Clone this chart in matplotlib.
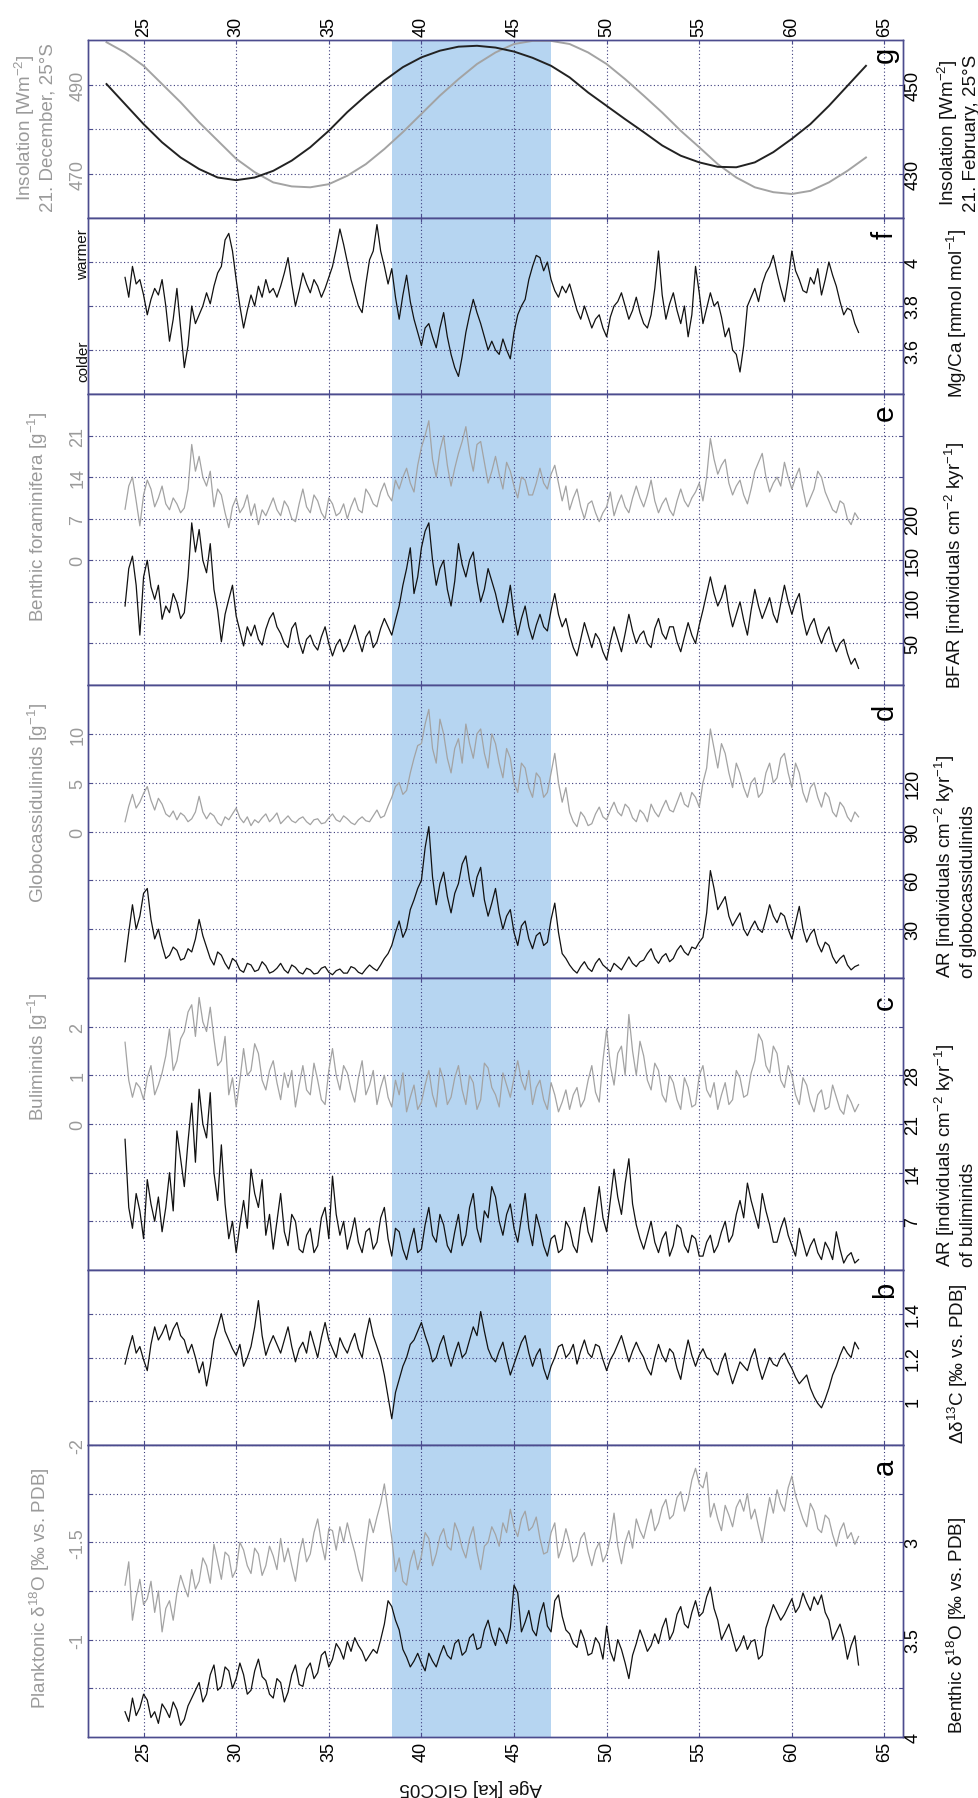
import numpy as np
import matplotlib.pyplot as plt

plt.rcParams['font.family'] = ['Liberation Sans', 'DejaVu Sans']
plt.rcParams['mathtext.fontset'] = 'custom'
plt.rcParams['mathtext.rm'] = 'Liberation Sans'
plt.rcParams['mathtext.it'] = 'Liberation Sans:italic'
plt.rcParams['mathtext.bf'] = 'Liberation Sans:bold'

# sample ages (ka, GICC05)
age = [24.0, 24.2, 24.4, 24.6, 24.8, 25.0, 25.2, 25.4, 25.6, 25.8,
       26.0, 26.2, 26.4, 26.6, 26.8, 27.0, 27.2, 27.4, 27.6, 27.8,
       28.0, 28.2, 28.4, 28.6, 28.8, 29.0, 29.2, 29.4, 29.6, 29.8,
       30.0, 30.2, 30.4, 30.6, 30.8, 31.0, 31.2, 31.4, 31.6, 31.8,
       32.0, 32.2, 32.4, 32.6, 32.8, 33.0, 33.2, 33.4, 33.6, 33.8,
       34.0, 34.2, 34.4, 34.6, 34.8, 35.0, 35.2, 35.4, 35.6, 35.8,
       36.0, 36.2, 36.4, 36.6, 36.8, 37.0, 37.2, 37.4, 37.6, 37.8,
       38.0, 38.2, 38.4, 38.6, 38.8, 39.0, 39.2, 39.4, 39.6, 39.8,
       40.0, 40.2, 40.4, 40.6, 40.8, 41.0, 41.2, 41.4, 41.6, 41.8,
       42.0, 42.2, 42.4, 42.6, 42.8, 43.0, 43.2, 43.4, 43.6, 43.8,
       44.0, 44.2, 44.4, 44.6, 44.8, 45.0, 45.2, 45.4, 45.6, 45.8,
       46.0, 46.2, 46.4, 46.6, 46.8, 47.0, 47.2, 47.4, 47.6, 47.8,
       48.0, 48.2, 48.4, 48.6, 48.8, 49.0, 49.2, 49.4, 49.6, 49.8,
       50.0, 50.2, 50.4, 50.6, 50.8, 51.0, 51.2, 51.4, 51.6, 51.8,
       52.0, 52.2, 52.4, 52.6, 52.8, 53.0, 53.2, 53.4, 53.6, 53.8,
       54.0, 54.2, 54.4, 54.6, 54.8, 55.0, 55.2, 55.4, 55.6, 55.8,
       56.0, 56.2, 56.4, 56.6, 56.8, 57.0, 57.2, 57.4, 57.6, 57.8,
       58.0, 58.2, 58.4, 58.6, 58.8, 59.0, 59.2, 59.4, 59.6, 59.8,
       60.0, 60.2, 60.4, 60.6, 60.8, 61.0, 61.2, 61.4, 61.6, 61.8,
       62.0, 62.2, 62.4, 62.6, 62.8, 63.0, 63.2, 63.4, 63.6]

# a: planktonic (left) / benthic (right) d18O
plank_d18o = [-1.28, -1.40, -1.10, -1.22, -1.31, -1.18, -1.21, -1.30, -1.14, -1.25,
              -1.04, -1.16, -1.20, -1.10, -1.24, -1.33, -1.27, -1.22, -1.36, -1.26,
              -1.30, -1.42, -1.38, -1.29, -1.49, -1.40, -1.31, -1.45, -1.43, -1.32,
              -1.36, -1.50, -1.46, -1.38, -1.34, -1.47, -1.44, -1.33, -1.38, -1.48,
              -1.43, -1.36, -1.52, -1.40, -1.47, -1.38, -1.30, -1.44, -1.52, -1.40,
              -1.44, -1.55, -1.62, -1.50, -1.41, -1.57, -1.56, -1.46, -1.58, -1.50,
              -1.60, -1.52, -1.45, -1.36, -1.30, -1.48, -1.62, -1.55, -1.63, -1.70,
              -1.80, -1.66, -1.52, -1.35, -1.42, -1.30, -1.28, -1.40, -1.46, -1.36,
              -1.43, -1.55, -1.52, -1.38, -1.44, -1.53, -1.57, -1.48, -1.46, -1.60,
              -1.55, -1.47, -1.42, -1.52, -1.58, -1.45, -1.36, -1.48, -1.50, -1.58,
              -1.54, -1.48, -1.60, -1.55, -1.67, -1.58, -1.53, -1.62, -1.66, -1.56,
              -1.58, -1.63, -1.52, -1.44, -1.45, -1.55, -1.60, -1.42, -1.48, -1.57,
              -1.50, -1.40, -1.43, -1.52, -1.55, -1.45, -1.38, -1.46, -1.50, -1.40,
              -1.44, -1.52, -1.65, -1.48, -1.39, -1.50, -1.56, -1.47, -1.62, -1.56,
              -1.52, -1.60, -1.67, -1.56, -1.60, -1.68, -1.72, -1.62, -1.64, -1.73,
              -1.76, -1.66, -1.72, -1.82, -1.88, -1.80, -1.78, -1.86, -1.63, -1.70,
              -1.62, -1.56, -1.69, -1.64, -1.58, -1.68, -1.72, -1.66, -1.75, -1.62,
              -1.67, -1.58, -1.50, -1.62, -1.73, -1.65, -1.77, -1.70, -1.66, -1.78,
              -1.84, -1.74, -1.68, -1.62, -1.58, -1.70, -1.66, -1.57, -1.55, -1.64,
              -1.62, -1.54, -1.48, -1.56, -1.60, -1.52, -1.55, -1.49, -1.53]
benth_d18o = [3.87, 3.92, 3.80, 3.89, 3.85, 3.78, 3.81, 3.90, 3.87, 3.93,
              3.83, 3.86, 3.90, 3.82, 3.86, 3.94, 3.91, 3.84, 3.80, 3.76,
              3.72, 3.82, 3.78, 3.68, 3.63, 3.76, 3.74, 3.64, 3.66, 3.75,
              3.70, 3.62, 3.68, 3.78, 3.76, 3.66, 3.60, 3.69, 3.71, 3.78,
              3.80, 3.70, 3.72, 3.82, 3.77, 3.68, 3.63, 3.73, 3.74, 3.65,
              3.62, 3.70, 3.67, 3.58, 3.56, 3.64, 3.60, 3.52, 3.55, 3.60,
              3.51, 3.56, 3.49, 3.53, 3.56, 3.61, 3.58, 3.55, 3.57, 3.50,
              3.42, 3.30, 3.33, 3.40, 3.45, 3.55, 3.59, 3.64, 3.61, 3.57,
              3.62, 3.66, 3.57, 3.61, 3.64, 3.58, 3.53, 3.58, 3.60, 3.52,
              3.50, 3.58, 3.56, 3.49, 3.47, 3.55, 3.54, 3.45, 3.40, 3.48,
              3.53, 3.44, 3.47, 3.52, 3.44, 3.22, 3.26, 3.46, 3.41, 3.35,
              3.45, 3.48, 3.37, 3.31, 3.43, 3.46, 3.30, 3.27, 3.38, 3.45,
              3.47, 3.52, 3.54, 3.45, 3.50, 3.58, 3.57, 3.49, 3.52, 3.60,
              3.43, 3.56, 3.61, 3.50, 3.55, 3.62, 3.70, 3.58, 3.52, 3.45,
              3.50, 3.56, 3.53, 3.47, 3.52, 3.44, 3.39, 3.50, 3.46, 3.37,
              3.33, 3.42, 3.44, 3.36, 3.30, 3.38, 3.36, 3.28, 3.23, 3.34,
              3.40, 3.50, 3.46, 3.42, 3.49, 3.56, 3.53, 3.48, 3.55, 3.51,
              3.50, 3.60, 3.58, 3.44, 3.38, 3.32, 3.36, 3.40, 3.37, 3.33,
              3.29, 3.36, 3.33, 3.26, 3.31, 3.35, 3.28, 3.32, 3.27, 3.36,
              3.40, 3.50, 3.46, 3.42, 3.49, 3.60, 3.53, 3.48, 3.63]

# b: delta d13C
delta_d13c = [1.17, 1.24, 1.30, 1.22, 1.25, 1.19, 1.14, 1.26, 1.34, 1.28,
              1.31, 1.35, 1.28, 1.33, 1.36, 1.30, 1.28, 1.22, 1.26, 1.20,
              1.13, 1.18, 1.07, 1.16, 1.28, 1.34, 1.40, 1.32, 1.28, 1.24,
              1.21, 1.26, 1.16, 1.20, 1.25, 1.34, 1.46, 1.30, 1.21, 1.26,
              1.30, 1.26, 1.22, 1.28, 1.34, 1.25, 1.18, 1.24, 1.27, 1.22,
              1.32, 1.26, 1.20, 1.29, 1.36, 1.28, 1.24, 1.20, 1.29, 1.25,
              1.22, 1.27, 1.31, 1.24, 1.20, 1.30, 1.38, 1.30, 1.25, 1.20,
              1.12, 1.02, 0.92, 1.04, 1.10, 1.16, 1.20, 1.26, 1.28, 1.32,
              1.36, 1.30, 1.25, 1.18, 1.20, 1.26, 1.30, 1.22, 1.16, 1.22,
              1.27, 1.20, 1.22, 1.28, 1.34, 1.30, 1.41, 1.32, 1.24, 1.20,
              1.18, 1.23, 1.27, 1.19, 1.12, 1.17, 1.22, 1.27, 1.30, 1.22,
              1.16, 1.21, 1.24, 1.15, 1.10, 1.16, 1.20, 1.25, 1.26, 1.20,
              1.22, 1.26, 1.17, 1.23, 1.28, 1.22, 1.20, 1.26, 1.25, 1.19,
              1.14, 1.19, 1.22, 1.26, 1.30, 1.24, 1.18, 1.23, 1.27, 1.23,
              1.20, 1.15, 1.12, 1.20, 1.26, 1.21, 1.18, 1.24, 1.22, 1.15,
              1.10, 1.20, 1.28, 1.21, 1.16, 1.21, 1.24, 1.20, 1.19, 1.14,
              1.12, 1.18, 1.22, 1.14, 1.08, 1.13, 1.18, 1.16, 1.14, 1.20,
              1.24, 1.16, 1.10, 1.15, 1.20, 1.17, 1.16, 1.20, 1.22, 1.18,
              1.15, 1.11, 1.08, 1.10, 1.12, 1.06, 1.02, 0.99, 0.97, 1.01,
              1.06, 1.12, 1.16, 1.21, 1.25, 1.22, 1.20, 1.27, 1.24]

# c: buliminids, concentration (left) and accumulation rate (right)
bulim_g = [1.68, 0.90, 0.55, 0.85, 0.75, 0.50, 0.95, 1.20, 0.60, 0.80,
           1.05, 1.40, 1.95, 1.10, 1.30, 1.75, 1.90, 2.30, 2.45, 1.80,
           2.60, 2.10, 1.90, 2.40, 1.75, 1.20, 1.30, 1.80, 0.60, 0.95,
           0.35, 0.90, 1.55, 1.00, 1.10, 1.65, 1.45, 0.90, 0.70, 1.10,
           1.30, 0.85, 0.50, 1.05, 0.75, 1.10, 0.35, 0.80, 1.20, 0.70,
           0.60, 1.25, 0.90, 0.50, 0.40, 1.10, 1.55, 1.00, 0.70, 1.20,
           1.05, 0.70, 0.45, 0.95, 1.30, 0.60, 0.80, 1.10, 0.40, 0.75,
           1.00, 0.55, 0.35, 0.90, 0.60, 1.05, 0.25, 0.55, 0.80, 0.30,
           0.45, 0.80, 1.10, 0.60, 0.35, 1.15, 0.90, 0.40, 0.55, 0.95,
           1.20, 0.70, 0.40, 1.00, 0.85, 0.30, 0.50, 1.25, 1.15, 0.75,
           0.60, 0.35, 1.05, 0.80, 0.55, 0.95, 1.30, 0.90, 0.70, 1.10,
           0.40, 0.75, 0.90, 0.50, 0.30, 0.85, 0.60, 0.25, 0.45, 0.70,
           0.30, 0.60, 0.75, 0.35, 0.50, 0.90, 1.20, 0.65, 0.45, 1.30,
           1.95, 1.20, 0.80, 1.45, 1.60, 1.00, 2.25, 1.50, 1.00, 1.70,
           1.40, 0.90, 0.70, 1.25, 1.10, 0.60, 0.45, 1.00, 0.85, 0.50,
           0.30, 0.95, 0.75, 0.35, 0.40, 1.00, 1.20, 0.70, 0.55, 0.85,
           0.30, 0.60, 0.85, 0.40, 0.50, 1.10, 0.95, 0.55, 0.60, 1.05,
           1.30, 1.85, 1.70, 1.20, 1.05, 1.60, 1.45, 0.90, 0.75, 1.20,
           1.00, 0.60, 0.40, 0.95, 0.80, 0.45, 0.25, 0.60, 0.70, 0.30,
           0.35, 0.80, 0.55, 0.30, 0.20, 0.60, 0.45, 0.25, 0.40]
bulim_ar = [18.8, 9.0, 6.0, 11.0, 8.5, 4.5, 13.0, 9.5, 7.0, 10.5,
            5.5, 9.0, 14.0, 8.5, 20.0, 16.0, 12.0, 18.5, 24.0, 15.5,
            26.0, 21.0, 19.0, 25.5, 14.0, 10.0, 18.0, 9.5, 4.5, 7.0,
            2.5, 6.5, 10.0, 6.0, 14.5, 11.0, 9.0, 13.0, 5.0, 8.0,
            3.0, 7.0, 11.0, 5.5, 3.5, 8.0, 7.0, 3.0, 2.5, 5.0,
            6.0, 2.5, 3.5, 7.5, 9.0, 4.5, 13.5, 8.0, 5.0, 7.0,
            3.0, 5.0, 7.5, 4.0, 2.5, 5.5, 6.0, 3.0, 4.0, 7.5,
            9.0, 4.5, 2.0, 6.0, 5.5, 3.0, 1.5, 4.0, 6.0, 2.5,
            3.0, 6.5, 9.0, 5.0, 4.0, 8.0, 6.5, 3.5, 2.5, 5.5,
            8.0, 3.5, 5.0, 9.0, 11.0, 6.0, 4.0, 8.5, 7.5, 12.0,
            10.5, 7.0, 5.0, 8.0, 9.5, 6.0, 4.0, 7.5, 11.0, 6.0,
            3.5, 8.0, 6.0, 3.5, 2.0, 4.5, 5.0, 2.5, 3.0, 7.0,
            6.0, 3.5, 2.5, 6.5, 9.0, 5.5, 4.0, 8.0, 12.0, 7.5,
            5.5, 10.0, 14.5, 10.5, 8.0, 12.5, 16.0, 9.5, 6.5, 4.5,
            3.0, 5.0, 7.0, 4.0, 2.5, 4.5, 5.5, 2.0, 3.5, 6.5,
            6.0, 3.5, 2.5, 5.0, 4.5, 2.0, 2.0, 4.0, 5.0, 2.5,
            3.5, 5.5, 7.0, 4.0, 5.0, 8.0, 10.0, 7.5, 12.5, 10.0,
            8.0, 6.0, 11.0, 8.5, 6.5, 4.0, 4.0, 6.0, 7.5, 5.0,
            3.5, 2.0, 6.0, 4.0, 2.0, 3.5, 4.5, 2.5, 1.5, 4.0,
            3.0, 1.5, 5.5, 3.0, 1.0, 2.0, 2.5, 1.0, 1.5]

# d: globocassidulinids
globo_g = [1.0, 2.6, 3.8, 2.4, 3.0, 3.9, 4.6, 3.2, 2.2, 3.4,
           2.8, 1.8, 1.5, 2.1, 1.2, 1.9, 1.6, 1.0, 1.3, 2.0,
           3.6, 2.0, 1.3, 1.9, 1.6, 0.9, 0.6, 1.5, 1.2, 1.8,
           2.4, 1.4, 0.9, 1.5, 0.6, 1.2, 0.9, 1.4, 1.8, 1.0,
           1.4, 1.9, 0.8, 1.2, 1.6, 1.1, 0.9, 1.3, 1.5, 1.0,
           0.7, 1.2, 1.3, 0.8, 0.9, 1.4, 1.8, 1.2, 1.0, 1.6,
           1.3, 0.9, 0.7, 1.2, 1.5, 1.1, 1.0, 1.6, 2.2, 1.4,
           1.6, 2.6, 3.5, 4.6, 5.0, 3.8, 4.2, 6.0, 7.5, 8.8,
           9.0, 11.0, 12.5, 8.5, 7.0, 11.5, 10.0, 7.5, 6.0, 8.5,
           9.5, 7.0, 11.0, 9.0, 7.5, 10.0, 10.5, 8.0, 6.5, 10.0,
           9.0, 7.0, 5.5, 8.5, 7.5, 5.0, 4.0, 7.0, 6.5, 4.5,
           3.5, 6.0, 5.5, 3.5, 4.0, 6.0, 8.0, 5.0, 3.0, 4.5,
           2.0, 1.0, 0.5, 2.0, 1.5, 0.6, 0.8, 1.8, 2.5, 1.5,
           1.2, 2.2, 3.0, 2.0, 1.6, 2.8, 2.4, 1.4, 1.0, 2.2,
           1.8, 1.0, 2.8, 2.0, 1.5, 2.4, 3.2, 2.2, 2.0, 3.0,
           4.0, 2.8, 2.5, 4.0, 3.5, 2.5, 5.0, 6.5, 10.5, 8.5,
           6.5, 9.0, 8.0, 6.0, 4.5, 7.0, 6.0, 4.5, 3.5, 5.0,
           5.5, 3.5, 4.0, 6.0, 7.0, 5.0, 5.5, 7.5, 8.0, 6.0,
           4.5, 7.0, 6.0, 4.0, 3.0, 4.5, 5.0, 3.5, 2.5, 4.0,
           3.5, 2.0, 1.5, 3.0, 2.5, 1.5, 1.0, 2.0, 1.5]
globo_ar = [10.0, 28.0, 45.0, 30.0, 38.0, 52.0, 55.0, 36.0, 24.0, 30.0,
            20.0, 12.0, 14.0, 19.0, 17.0, 11.0, 12.0, 18.0, 16.0, 24.0,
            36.0, 26.0, 19.0, 12.0, 8.0, 16.0, 14.0, 9.0, 5.5, 12.0,
            10.0, 5.0, 3.5, 9.0, 8.0, 4.0, 5.0, 10.0, 7.5, 3.0,
            4.0, 6.0, 9.0, 5.0, 3.0, 8.0, 6.5, 3.5, 2.5, 6.0,
            5.0, 2.5, 3.0, 6.0, 7.0, 3.5, 2.0, 4.5, 5.5, 3.0,
            3.0, 7.0, 6.0, 3.5, 2.5, 5.5, 8.0, 6.0, 4.5, 8.0,
            12.0, 15.0, 20.0, 28.0, 35.0, 25.0, 30.0, 42.0, 48.0, 55.0,
            60.0, 80.0, 93.0, 62.0, 45.0, 58.0, 65.0, 50.0, 40.0, 52.0,
            58.0, 70.0, 75.0, 60.0, 50.0, 62.0, 68.0, 48.0, 38.0, 46.0,
            55.0, 40.0, 30.0, 38.0, 42.0, 28.0, 20.0, 32.0, 35.0, 24.0,
            18.0, 26.0, 28.0, 20.0, 22.0, 36.0, 46.0, 28.0, 15.0, 12.0,
            8.0, 5.0, 3.0, 7.0, 10.0, 6.0, 4.0, 9.0, 12.0, 8.0,
            6.0, 4.0, 9.0, 7.0, 5.0, 9.0, 13.0, 9.0, 7.0, 10.0,
            11.0, 15.0, 18.0, 12.0, 9.0, 13.0, 15.0, 10.0, 12.0, 17.0,
            20.0, 16.0, 14.0, 19.0, 18.0, 22.0, 25.0, 40.0, 66.0, 55.0,
            42.0, 46.0, 50.0, 38.0, 32.0, 36.0, 40.0, 30.0, 26.0, 31.0,
            35.0, 30.0, 28.0, 36.0, 45.0, 38.0, 34.0, 40.0, 38.0, 30.0,
            24.0, 34.0, 44.0, 30.0, 22.0, 27.0, 30.0, 21.0, 16.0, 22.0,
            20.0, 13.0, 9.0, 12.0, 14.0, 8.0, 5.0, 7.0, 8.0]

# e: benthic foraminifera
bf_g = [8.6, 12.5, 14.0, 10.0, 5.8, 11.0, 13.5, 12.0, 9.0, 10.5,
        12.5, 9.5, 8.5, 10.5, 9.5, 8.0, 8.8, 12.0, 19.5, 15.0,
        17.5, 14.0, 12.5, 15.0, 9.0, 12.0, 11.0, 8.0, 5.5, 9.0,
        10.5, 8.0, 9.0, 11.0, 7.5, 9.5, 6.0, 8.5, 7.5, 9.0,
        10.5, 8.5, 7.5, 10.0, 9.0, 7.0, 6.5, 9.5, 12.0, 9.0,
        8.0, 11.0, 10.0, 8.0, 7.0, 10.5, 9.5, 7.5, 8.0, 9.5,
        7.0, 9.0, 10.5, 8.5, 8.0, 12.0, 11.0, 9.5, 9.0, 11.5,
        13.0, 11.0, 10.0, 13.5, 12.0, 14.0, 15.5, 13.0, 11.5, 16.0,
        19.0, 21.0, 23.5, 17.0, 14.0, 18.5, 21.0, 16.0, 12.5, 15.5,
        18.0, 20.0, 22.5, 18.0, 15.0, 19.5, 20.0, 16.5, 13.0, 15.0,
        17.5, 14.5, 12.0, 16.5, 15.0, 12.5, 10.5, 14.0, 13.5, 11.0,
        11.0, 13.0, 15.5, 13.0, 12.0, 14.5, 16.0, 13.0, 10.0, 12.5,
        8.5, 10.5, 12.0, 9.0, 7.0, 9.5, 10.0, 8.0, 6.5, 8.0,
        9.0, 11.5, 7.5, 9.5, 11.0, 9.0, 8.0, 10.5, 12.5, 10.5,
        9.0, 11.0, 13.5, 10.0, 8.0, 9.5, 10.5, 8.5, 7.5, 10.0,
        12.0, 10.0, 9.0, 10.5, 11.5, 13.0, 10.0, 14.0, 20.5, 17.0,
        14.5, 16.0, 17.0, 13.0, 11.0, 12.5, 13.5, 11.0, 9.5, 12.0,
        15.0, 16.5, 18.0, 14.0, 11.5, 13.0, 14.0, 12.5, 16.5, 14.0,
        12.0, 14.0, 15.5, 12.0, 9.0, 10.5, 12.0, 15.0, 14.0, 11.5,
        10.0, 8.5, 8.0, 10.0, 9.5, 7.0, 6.0, 8.0, 7.0]
bfar = [95, 140, 155, 120, 60, 130, 150, 118, 103, 120,
        79, 95, 87, 110, 99, 80, 87, 130, 195, 160,
        187, 150, 135, 170, 115, 90, 52, 85, 103, 120,
        83, 65, 47, 70, 59, 72, 55, 48, 67, 80,
        87, 70, 62, 50, 45, 68, 75, 52, 38, 55,
        60, 48, 42, 58, 70, 50, 35, 48, 55, 40,
        48, 60, 72, 55, 40, 58, 65, 45, 52, 68,
        80, 70, 60, 78, 95, 120, 140, 165, 110, 130,
        165, 185, 195, 150, 120, 140, 150, 115, 95, 125,
        170, 145, 130, 150, 160, 125, 100, 115, 140, 125,
        110, 90, 75, 95, 120, 85, 60, 80, 95, 70,
        55, 72, 85, 70, 65, 90, 110, 85, 70, 80,
        60, 45, 35, 55, 75, 60, 45, 62, 55, 40,
        30, 52, 70, 55, 40, 62, 85, 65, 50, 60,
        65, 50, 45, 68, 80, 62, 55, 70, 70, 52,
        40, 58, 75, 60, 50, 72, 90, 110, 130, 110,
        95, 105, 120, 90, 70, 85, 100, 78, 60, 90,
        115, 95, 80, 92, 105, 85, 75, 98, 120, 100,
        85, 100, 110, 80, 60, 72, 80, 62, 50, 62,
        70, 52, 40, 50, 55, 38, 25, 32, 20]

# f: Mg/Ca
mgca = [3.93, 3.84, 3.98, 3.90, 3.92, 3.85, 3.76, 3.83, 3.88, 3.85,
        3.92, 3.80, 3.64, 3.74, 3.88, 3.70, 3.52, 3.62, 3.80, 3.72,
        3.76, 3.80, 3.86, 3.81, 3.89, 3.95, 3.98, 4.10, 4.13, 4.05,
        3.92, 3.80, 3.70, 3.78, 3.85, 3.80, 3.89, 3.84, 3.92, 3.86,
        3.88, 3.84, 3.89, 3.95, 4.02, 3.90, 3.80, 3.87, 3.95, 3.90,
        3.86, 3.92, 3.89, 3.84, 3.88, 3.93, 3.98, 4.06, 4.15, 4.08,
        4.00, 3.92, 3.86, 3.80, 3.77, 3.90, 4.01, 4.05, 4.17, 4.05,
        3.98, 3.90, 3.97, 3.84, 3.74, 3.85, 3.94, 3.82, 3.74, 3.68,
        3.62, 3.70, 3.72, 3.66, 3.61, 3.70, 3.77, 3.66, 3.58, 3.52,
        3.48, 3.57, 3.68, 3.76, 3.83, 3.77, 3.72, 3.66, 3.60, 3.64,
        3.60, 3.58, 3.65, 3.60, 3.56, 3.68, 3.76, 3.80, 3.83, 3.92,
        3.98, 4.03, 4.02, 3.96, 4.00, 3.92, 3.87, 3.84, 3.89, 3.86,
        3.90, 3.84, 3.78, 3.74, 3.80, 3.75, 3.70, 3.74, 3.76, 3.70,
        3.66, 3.75, 3.80, 3.82, 3.86, 3.80, 3.74, 3.78, 3.84, 3.77,
        3.72, 3.70, 3.76, 3.88, 4.05, 3.85, 3.74, 3.81, 3.86, 3.78,
        3.72, 3.80, 3.66, 3.76, 3.98, 3.86, 3.72, 3.79, 3.86, 3.80,
        3.82, 3.75, 3.66, 3.70, 3.60, 3.58, 3.50, 3.62, 3.80, 3.84,
        3.88, 3.82, 3.90, 3.95, 3.98, 4.03, 3.95, 3.88, 3.82, 3.92,
        4.05, 3.96, 3.92, 3.87, 3.86, 3.93, 3.90, 3.97, 3.85, 3.92,
        4.00, 3.94, 3.89, 3.82, 3.76, 3.79, 3.78, 3.72, 3.68]

# g: insolation at 25 S
ins_age = [23, 24, 25, 26, 27, 28, 29, 30, 31, 32, 33, 34, 35, 36,
           37, 38, 39, 40, 41, 42, 43, 44, 45, 46, 47, 48, 49, 50,
           51, 52, 53, 54, 55, 56, 57, 58, 59, 60, 61, 62, 63, 64]
ins_dec = [499.5, 497.2, 494.2, 490.1, 486.0, 481.5, 477.4, 473.3, 470.3, 468.0,
           467.1, 466.9, 467.6, 469.5, 472.1, 475.5, 479.3, 483.4, 487.5, 491.2,
           494.6, 497.2, 499.1, 499.8, 499.8, 499.1, 497.2, 494.6, 491.2, 487.5,
           483.7, 479.6, 475.9, 472.1, 469.1, 466.9, 465.8, 465.4, 466.1, 468.0,
           470.6, 473.6]
ins_feb = [450.1, 445.6, 441.1, 437.0, 433.6, 431.0, 429.1, 428.5, 429.1, 430.6,
           432.9, 435.9, 439.6, 443.8, 447.5, 450.9, 453.9, 456.1, 457.6, 458.5,
           458.7, 458.3, 457.4, 456.0, 454.2, 451.6, 448.2, 445.2, 442.2, 439.3,
           436.3, 434.0, 432.5, 431.5, 431.4, 432.5, 434.8, 437.8, 441.1, 445.2,
           449.7, 454.2]

band_start, band_end = 38.4, 47.0
age_ticks = [25, 30, 35, 40, 45, 50, 55, 60, 65]

W, H = 979, 1799
X0, X1 = 88, 903
SPINE = '#4c4c8e'
GRID = '#3c3c7c'
GRAY = '#a3a3a3'
LGRAY = '#9a9a9a'
BLACK = '#111111'
BAND = '#b6d5f1'
FS = 13
LFS = 13.6
LW = 0.9

fig = plt.figure(figsize=(W / 100, H / 100), dpi=100)


def panel(top, bot, llim, lticks, llabels, rlim, rticks, rlabels, letter, lety):
    ax = fig.add_axes([X0 / W, 1 - bot / H, (X1 - X0) / W, (bot - top) / H])
    ax.axvspan(band_start, band_end, color=BAND, lw=0, zorder=0)
    ax.set_xlim(22, 66)
    ax.set_xticks(age_ticks)
    ax.set_xticklabels([str(t) for t in age_ticks], rotation=90)
    ax.set_ylim(*llim)
    ax.set_yticks(lticks)
    ax.set_yticklabels(llabels, rotation=90, va='center')
    ax.grid(True, color=GRID, ls=(0, (1, 2.2)), lw=0.8)
    ax.tick_params(direction='in', length=3, color=SPINE, labelsize=FS, pad=2,
                   top=True, labelbottom=False)
    ax.tick_params(axis='y', labelcolor=LGRAY, pad=1)
    tw = ax.twinx()
    tw.set_ylim(*rlim)
    tw.set_yticks(rticks)
    tw.set_yticklabels(rlabels, rotation=90, va='center')
    tw.tick_params(direction='in', length=3, color=SPINE, labelsize=FS, pad=1)
    for a in (ax, tw):
        for s in a.spines.values():
            s.set_color(SPINE)
            s.set_linewidth(1.0)
    ax.text(0.978, lety, letter, transform=ax.transAxes, rotation=90,
            fontsize=21, ha='center', va='center')
    return ax, tw


def lab(x, y, s, color=BLACK, size=LFS, rot=90, ma='left'):
    fig.text(x / W, 1 - y / H, s, rotation=rot, ha='center', va='center',
             color=color, fontsize=size, multialignment=ma)


# g
ax, tw = panel(41, 219, (460, 500), [470, 480, 490], ['470', '', '490'],
               (420, 460), [430, 440, 450], ['430', '', '450'], 'g', 0.92)
ax.tick_params(axis='x', labeltop=True, pad=3)
ax.plot(ins_age, ins_dec, color=GRAY, lw=1.4)
tw.plot(ins_age, ins_feb, color='#222222', lw=1.4)

# f
ax, tw = panel(219, 395, (3.4, 4.2), [3.6, 3.8, 4.0], ['', '', ''],
               (3.4, 4.2), [3.6, 3.8, 4.0], ['3.6', '3.8', '4'], 'f', 0.91)
tw.plot(age, mgca, color=BLACK, lw=LW)

# e
ax, tw = panel(395, 686, (-21, 28), [-14, -7, 0, 7, 14, 21], ['', '', '0', '7', '14', '21'],
               (0, 350), [50, 100, 150, 200, 250, 300], ['50', '100', '150', '200', '', ''],
               'e', 0.938)
ax.plot(age, bf_g, color=GRAY, lw=LW)
tw.plot(age, bfar, color=BLACK, lw=LW)

# d
ax, tw = panel(686, 979, (-15, 15), [-10, -5, 0, 5, 10], ['', '', '0', '5', '10'],
               (0, 180), [30, 60, 90, 120, 150], ['30', '60', '90', '120', ''],
               'd', 0.911)
ax.plot(age, globo_g, color=GRAY, lw=LW)
tw.plot(age, globo_ar, color=BLACK, lw=LW)

# c
ax, tw = panel(979, 1271, (-3, 3), [-2, -1, 0, 1, 2], ['', '', '0', '1', '2'],
               (0, 42), [7, 14, 21, 28, 35], ['7', '14', '21', '28', ''],
               'c', 0.918)
ax.plot(age, bulim_g, color=GRAY, lw=LW)
tw.plot(age, bulim_ar, color=BLACK, lw=LW)

# b
ax, tw = panel(1271, 1446, (0.8, 1.6), [1.0, 1.2, 1.4], ['', '', ''],
               (0.8, 1.6), [1.0, 1.2, 1.4], ['1', '1.2', '1.4'], 'b', 0.89)
tw.plot(age, delta_d13c, color=BLACK, lw=LW)

# a
ax, tw = panel(1446, 1738, (-0.5, -2), [-2, -1.75, -1.5, -1.25, -1, -0.75],
               ['-2', '', '-1.5', '', '-1', ''],
               (4, 2.5), [2.75, 3, 3.25, 3.5, 3.75, 4], ['', '3', '', '3.5', '', '4'],
               'a', 0.928)
ax.tick_params(axis='x', labelbottom=True, pad=3)
ax.plot(age, plank_d18o, color=GRAY, lw=LW)
tw.plot(age, benth_d18o, color=BLACK, lw=LW)

# right-hand labels
lab(957, 1625, 'Benthic δ$^{18}$O [‰ vs. PDB]')
lab(958, 1364, 'Δδ$^{13}$C [‰ vs. PDB]')
lab(955, 1155, 'AR [individuals cm$^{-2}$ kyr$^{-1}$]\nof buliminids')
lab(955, 866, 'AR [individuals cm$^{-2}$ kyr$^{-1}$]\nof globocassidulinids')
lab(955, 565, 'BFAR [individuals cm$^{-2}$ kyr$^{-1}$]')
lab(957, 313, 'Mg/Ca [mmol mol$^{-1}$]')
lab(958, 133, 'Insolation [Wm$^{-2}$]\n21. February, 25°S', ma='center')

# left-hand labels
lab(40, 1588, 'Planktonic δ$^{18}$O [‰ vs. PDB]', color=LGRAY)
lab(38, 1057, 'Buliminids [g$^{-1}$]', color=LGRAY)
lab(38, 803, 'Globocassidulinids [g$^{-1}$]', color=LGRAY)
lab(38, 517, 'Benthic foraminifera [g$^{-1}$]', color=LGRAY)
lab(35, 128, 'Insolation [Wm$^{-2}$]\n21. December, 25°S', color=LGRAY, ma='center')
lab(83, 255, 'warmer', size=11)
lab(83, 361, 'colder', size=11)

lab(471, 1788, 'Age [ka] GICC05', rot=180)

fig.savefig('out.png', dpi=100)
